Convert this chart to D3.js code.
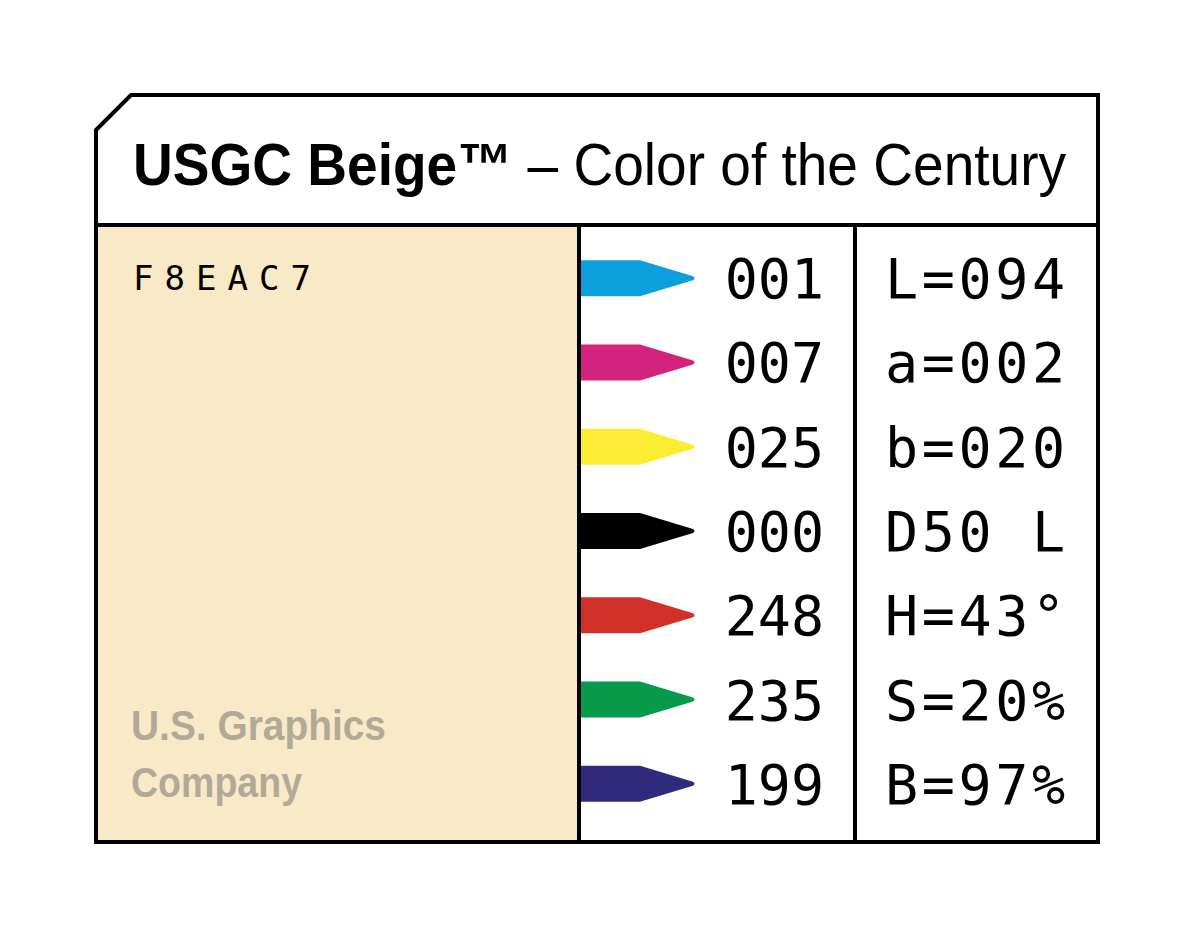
<!DOCTYPE html>
<html><head><meta charset="utf-8">
<script src="https://cdn.jsdelivr.net/npm/d3@7"></script>
<style>body{margin:0;background:#fff}</style>
</head><body>
<div id="card"></div>
<script>
// swatch data
var hexCode = "F8EAC7";
var swatch = "#f8eac7";
var pencilColors = ["#0d9fdc", "#d4237f", "#fbec34", "#000000", "#cf3027", "#079a4b", "#2f2a7d"];
var pencilCodes = ["001", "007", "025", "000", "248", "235", "199"];
var specs = ["L=094", "a=002", "b=020", "D50 L", "H=43°", "S=20%", "B=97%"];
var company = ["U.S. Graphics", "Company"];
var companyWidths = [255, 171];

var width = 1200, height = 929;
var frameL = 96, frameR = 1098, frameT = 95, frameB = 842, headY = 225;
var col1 = 579, col2 = 855;

var svg = d3.select("#card").append("svg")
    .attr("width", width)
    .attr("height", height);

// rows
var y = d3.scaleBand()
    .domain(d3.range(pencilCodes.length))
    .range([236, 826])
    .padding(0);

// beige panel
svg.append("rect")
    .attr("x", frameL).attr("y", headY)
    .attr("width", col1 - frameL).attr("height", frameB - headY)
    .attr("fill", swatch);

// pencils
var pencil = function(cy) {
  var h = 36, x0 = col1 + 1, x1 = 640, x2 = 693;
  return "M" + x0 + "," + (cy - h / 2) + "H" + x1 +
         "L" + x2 + "," + (cy - 2) + "Q" + (x2 + 3) + "," + cy + " " + x2 + "," + (cy + 2) +
         "L" + x1 + "," + (cy + h / 2) + "H" + x0 + "Z";
};
svg.append("g").selectAll("path")
    .data(pencilColors)
    .enter()
    .append("path")
    .attr("d", function(d, i) { return pencil(y(i) + y.bandwidth() / 2); })
    .attr("fill", function(d) { return d; });

// codes
svg.append("g").selectAll("text")
    .data(pencilCodes)
    .enter()
    .append("text")
    .attr("x", 824)
    .attr("y", function(d, i) { return y(i) + y.bandwidth() / 2 + 20; })
    .attr("text-anchor", "end")
    .style("font-family", "DejaVu Sans Mono")
    .style("font-size", "55px")
    .text(function(d) { return d; });

// specs
svg.append("g").selectAll("text")
    .data(specs)
    .enter()
    .append("text")
    .attr("x", 885)
    .attr("y", function(d, i) { return y(i) + y.bandwidth() / 2 + 20; })
    .style("font-family", "DejaVu Sans Mono")
    .style("font-size", "55px")
    .attr("textLength", 180)
    .text(function(d) { return d; });

// hex label
svg.append("text")
    .attr("x", 133).attr("y", 290)
    .style("font-family", "DejaVu Sans Mono")
    .style("font-size", "34px")
    .attr("textLength", 178)
    .text(hexCode);

// company
svg.append("g").selectAll("text")
    .data(company)
    .enter()
    .append("text")
    .attr("x", 131)
    .attr("y", function(d, i) { return 740 + i * 57; })
    .attr("fill", "#b2aa98")
    .style("font-family", "Liberation Sans")
    .style("font-weight", "bold")
    .style("font-size", "42px")
    .attr("textLength", function(d, i) { return companyWidths[i]; })
    .attr("lengthAdjust", "spacingAndGlyphs")
    .text(function(d) { return d; });

// title
var title = svg.append("text")
    .attr("x", 133).attr("y", 185)
    .style("font-family", "Liberation Sans")
    .style("font-size", "60px")
    .attr("textLength", 933)
    .attr("lengthAdjust", "spacingAndGlyphs");
title.append("tspan").style("font-weight", "bold").text("USGC Beige™");
title.append("tspan").text(" – Color of the Century");

// frame
var stroke = function(sel) { return sel.attr("fill", "none").attr("stroke", "#000").attr("stroke-width", 4); };
stroke(svg.append("path")
    .attr("d", "M" + frameL + "," + (frameT + 35) + "L" + (frameL + 35) + "," + frameT +
               "H" + frameR + "V" + frameB + "H" + frameL + "Z"));
stroke(svg.append("line").attr("x1", frameL).attr("x2", frameR).attr("y1", headY).attr("y2", headY));
stroke(svg.append("line").attr("x1", col1).attr("x2", col1).attr("y1", headY).attr("y2", frameB));
stroke(svg.append("line").attr("x1", col2).attr("x2", col2).attr("y1", headY).attr("y2", frameB));
</script>
</body></html>
